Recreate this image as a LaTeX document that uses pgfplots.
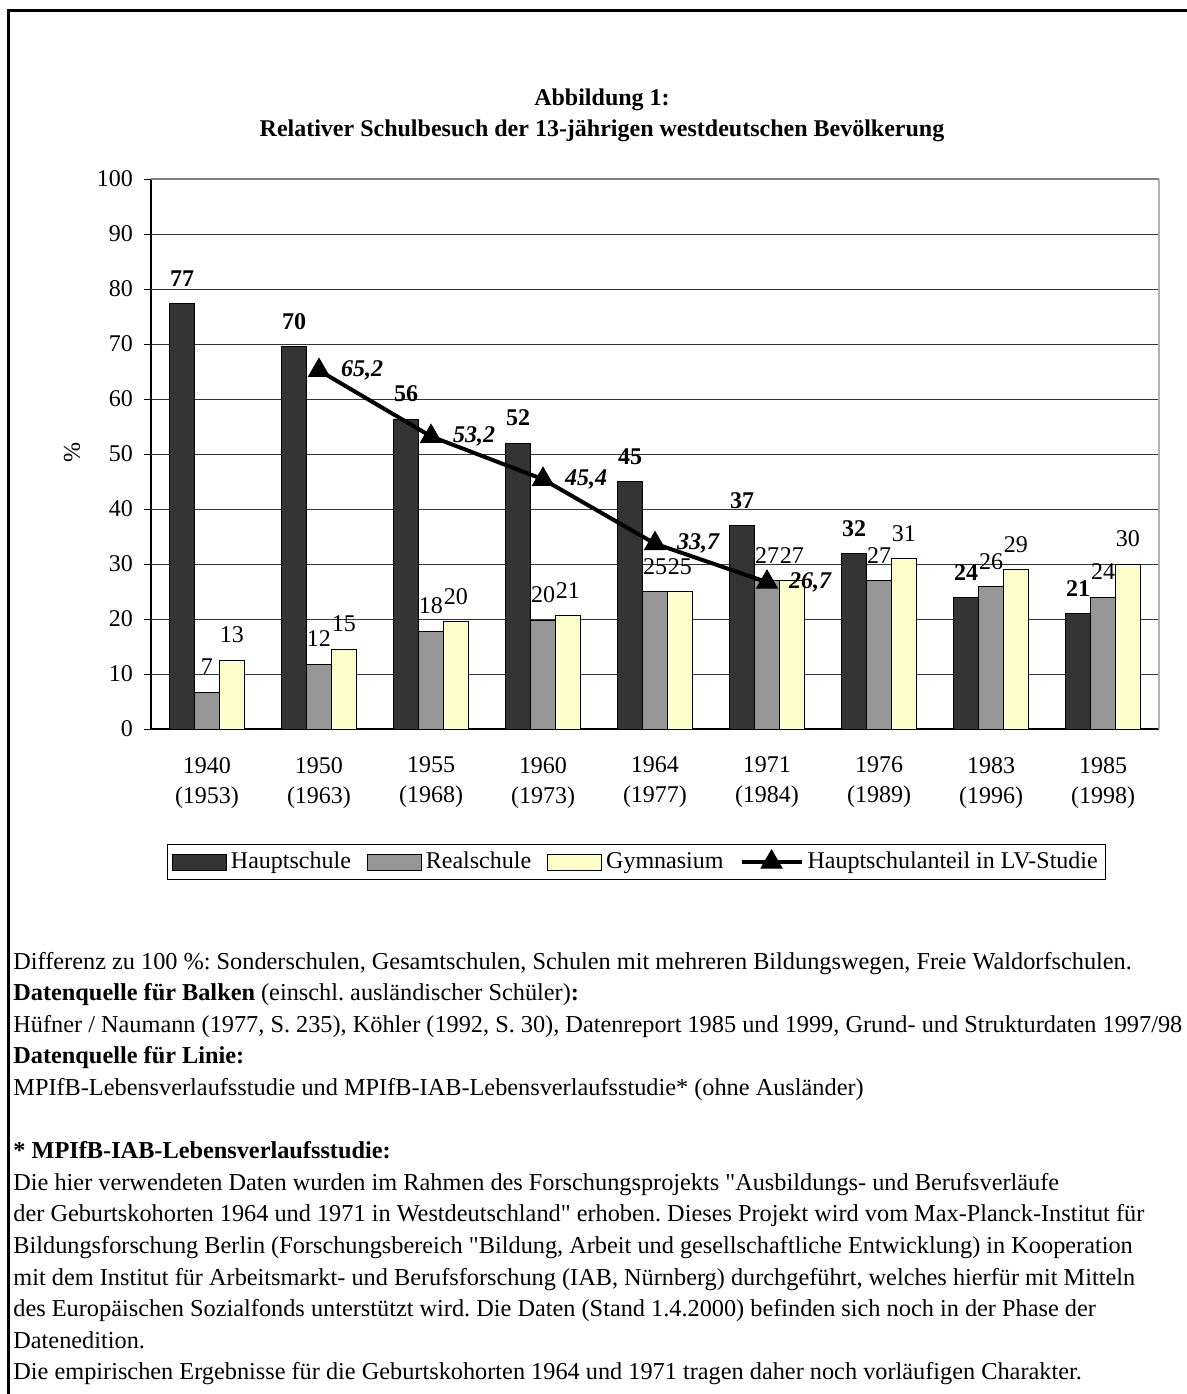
\documentclass[border=0pt]{standalone}
\usepackage{fontspec}
\setmainfont{Liberation Serif}
\newfontfamily\qfont{Liberation Serif}
\usepackage{pgfplots}
\pgfplotsset{compat=1.18}
\usepackage{pgfplotstable}

\definecolor{haupt}{HTML}{333333}
\definecolor{real}{HTML}{969696}
\definecolor{gym}{HTML}{FFFFCC}

\pgfplotsset{
    barleg/.style={legend image code/.code={\draw[##1] (0pt,-4pt) rectangle (27pt,4pt);}},
    lineleg/.style={legend image code/.code={\draw[mark repeat=2, mark phase=2, ##1] plot coordinates {(0pt,0pt) (15pt,0pt) (30pt,0pt)};}},
}

% bars: value and printed label
\pgfplotstableread{
x y l
0 77.3 77
1 69.5 70
2 56.3 56
3 52.0 52
4 45.0 45
5 37.0 37
6 31.9 32
7 23.9 24
8 21.0 21
}\tabHaupt
\pgfplotstableread{
x y l
0 6.7 7
1 11.8 12
2 17.8 18
3 19.8 20
4 25.0 25
5 27.0 27
6 27.0 27
7 25.9 26
8 24.0 24
}\tabReal
\pgfplotstableread{
x y l
0 12.5 13
1 14.5 15
2 19.5 20
3 20.6 21
4 25.0 25
5 27.0 27
6 31.0 31
7 29.0 29
8 30.0 30
}\tabGym
% line: LV-Studie
\pgfplotstableread{
x y l
1 65.2 65,2
2 53.2 53,2
3 45.4 45,4
4 33.7 33,7
5 26.7 26,7
}\tabLV

\newcommand{\fs}{\fontsize{12}{15}\selectfont}
\newcommand{\fn}{\fontsize{12.15}{15}\selectfont\frenchspacing}
\newcommand{\q}{{\qfont"}}

\begin{document}
\begin{tikzpicture}[font=\fs]
\useasboundingbox (0,0) rectangle (593.5pt,-697pt);
\fill[white] (0,0) rectangle (593.5pt,-697pt);
\draw[line width=1.5pt] (4.25pt,-697pt) -- (4.25pt,-5pt) -- (593.5pt,-5pt);

\node[anchor=base, font=\fs\bfseries] at (301pt,-52.5pt) {Abbildung 1:};
\node[anchor=base, font=\fs\bfseries] at (301pt,-68pt) {Relativer Schulbesuch der 13-jährigen westdeutschen Bevölkerung};

\begin{axis}[
    scale only axis,
    width=504pt, height=275pt,
    at={(75.5pt,-364.5pt)}, anchor=south west,
    xmin=-0.5, xmax=8.5,
    ymin=0, ymax=100,
    ytick={0,10,...,100},
    xtick={0,...,8},
    xticklabels={{1940\\(1953)},{1950\\(1963)},{1955\\(1968)},{1960\\(1973)},{1964\\(1977)},{1971\\(1984)},{1976\\(1989)},{1983\\(1996)},{1985\\(1998)}},
    xticklabel style={align=center, font=\fs, yshift=-7pt},
    yticklabel style={font=\fs, xshift=-2pt},
    /pgf/number format/assume math mode=true,
    axis lines*=left,
    axis line style={black, line width=0.6pt},
    tick align=outside,
    major tick length=3.5pt,
    xtick style={draw=none},
    ytick style={black, line width=0.5pt},
    ymajorgrids,
    grid style={black!80, line width=0.5pt},
    ylabel={\%},
    ylabel style={at={(axis description cs:-0.0784,0.502)}, anchor=center, font=\fs},
    clip=false,
    legend columns=-1,
    legend style={at={(0.482,-0.2418)}, anchor=center, draw=black, line width=0.5pt,
        font=\fs, inner sep=2pt,
        /tikz/every even column/.append style={column sep=6pt}},
    legend cell align=left,
]
\draw[black!30, line width=1pt] (rel axis cs:1,0) -- (rel axis cs:1,1);
\draw[black!50, line width=0.6pt] (rel axis cs:0,1) -- (rel axis cs:1,1);

\addplot[ybar, bar width=12.4pt, bar shift=-12.4pt, fill=haupt, draw=black, line width=0.5pt,
    point meta=explicit symbolic, nodes near coords,
    nodes near coords style={font=\fs\bfseries, xshift=-12.4pt, yshift=5pt}, barleg]
    table[x=x, y=y, meta=l] {\tabHaupt};
\addlegendentry{Hauptschule}

\addplot[ybar, bar width=12.4pt, bar shift=0pt, fill=real, draw=black, line width=0.5pt,
    point meta=explicit symbolic, nodes near coords,
    nodes near coords style={font=\fs, yshift=5pt}, barleg]
    table[x=x, y=y, meta=l] {\tabReal};
\addlegendentry{Realschule}

\addplot[ybar, bar width=12.4pt, bar shift=12.4pt, fill=gym, draw=black, line width=0.5pt,
    point meta=explicit symbolic, nodes near coords,
    nodes near coords style={font=\fs, xshift=12.4pt, yshift=5pt}, barleg]
    table[x=x, y=y, meta=l] {\tabGym};
\addlegendentry{Gymnasium}

\addplot[sharp plot, black, line width=2pt, mark=triangle*, mark size=6pt, mark options={solid, line width=0.5pt},
    point meta=explicit symbolic, nodes near coords,
    nodes near coords style={font=\fs\bfseries\itshape, anchor=west, xshift=7.5pt, yshift=0pt}, lineleg]
    table[x=x, y=y, meta=l] {\tabLV};
\addlegendentry{Hauptschulanteil in LV-Studie}
\end{axis}

\begin{scope}[every node/.style={anchor=base west, inner sep=0pt, font=\fn}]
\node at (6.5pt,-484.5pt) {Differenz zu 100~\%: Sonderschulen, Gesamtschulen, Schulen mit mehreren Bildungswegen, Freie Waldorfschulen.};
\node at (6.5pt,-500.3pt) {\textbf{Datenquelle für Balken} (einschl. ausländischer Schüler)\textbf{:}};
\node at (6.5pt,-516.1pt) {Hüfner / Naumann (1977, S. 235), Köhler (1992, S. 30), Datenreport 1985 und 1999, Grund- und Strukturdaten 1997/98};
\node at (6.5pt,-531.9pt) {\textbf{Datenquelle für Linie:}};
\node at (6.5pt,-547.7pt) {MPIfB-Lebensverlaufsstudie und MPIfB-IAB-Lebensverlaufsstudie* (ohne Ausländer)};
\node at (6.5pt,-579.3pt) {\textbf{* MPIfB-IAB-Lebensverlaufsstudie:}};
\node at (6.5pt,-595.1pt) {Die hier verwendeten Daten wurden im Rahmen des Forschungsprojekts \q Ausbildungs- und Berufsverläufe};
\node at (6.5pt,-610.9pt) {der Geburtskohorten 1964 und 1971 in Westdeutschland\q{} erhoben. Dieses Projekt wird vom Max-Planck-Institut für};
\node at (6.5pt,-626.7pt) {Bildungsforschung Berlin (Forschungsbereich \q Bildung, Arbeit und gesellschaftliche Entwicklung) in Kooperation};
\node at (6.5pt,-642.5pt) {mit dem Institut für Arbeitsmarkt- und Berufsforschung (IAB, Nürnberg) durchgeführt, welches hierfür mit Mitteln};
\node at (6.5pt,-658.3pt) {des Europäischen Sozialfonds unterstützt wird. Die Daten (Stand 1.4.2000) befinden sich noch in der Phase der};
\node at (6.5pt,-674.1pt) {Datenedition.};
\node at (6.5pt,-689.9pt) {Die empirischen Ergebnisse für die Geburtskohorten 1964 und 1971 tragen daher noch vorläufigen Charakter.};
\end{scope}
\end{tikzpicture}
\end{document}
